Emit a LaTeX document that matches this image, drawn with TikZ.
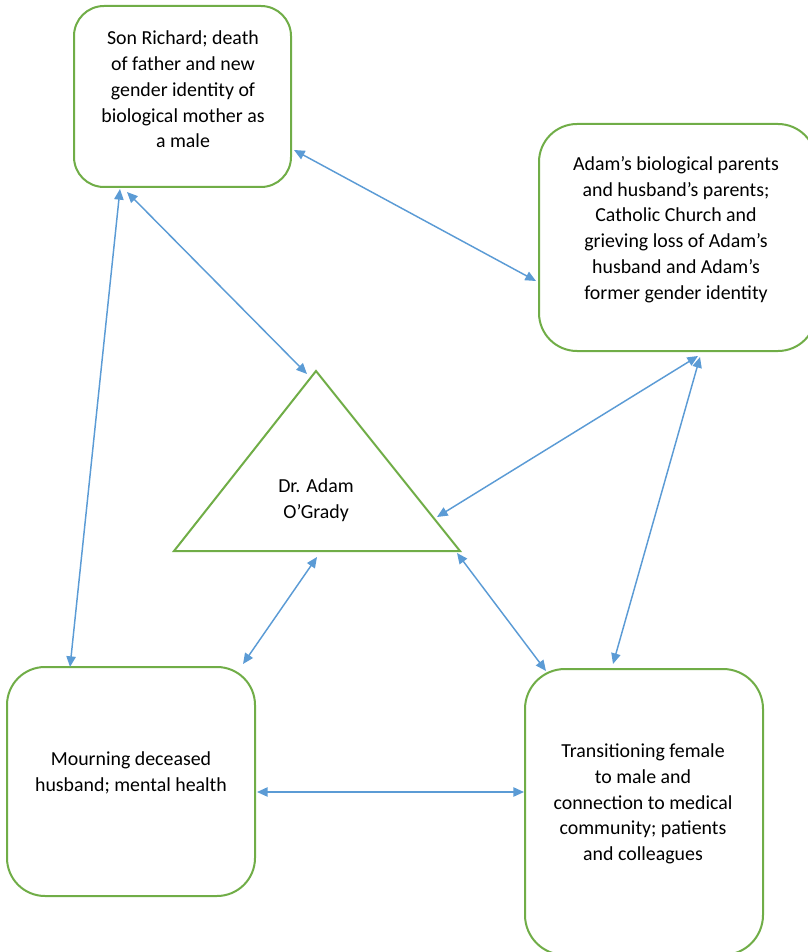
\documentclass[tikz,border=0pt]{standalone}
\usepackage{fontspec}
\setmainfont{Carlito}
\usetikzlibrary{arrows.meta,calc}
\definecolor{boxgreen}{HTML}{70AD47}
\definecolor{arrowblue}{HTML}{5B9BD5}
\tikzset{
  rbox/.style={draw=boxgreen, line width=1.5pt, fill=white, rectangle, inner sep=0pt},
  txt/.style={align=center, inner sep=0pt, font=\fontsize{14.9pt}{19.3pt}\selectfont, text=black},
  conn/.style={draw=arrowblue, line width=1.1pt, {Triangle[length=8pt,width=7pt]}-{Triangle[length=8pt,width=7pt]}}
}
\begin{document}
\begin{tikzpicture}[x=0.75pt,y=-0.75pt]
\useasboundingbox (0,0) rectangle (807,952);
% boxes
\node[rbox, minimum width=162.75pt, minimum height=135.75pt, rounded corners=22.5pt] (b1) at (182.5,96.5) {};
\node[rbox, minimum width=207.75pt, minimum height=170.25pt, rounded corners=28.5pt] (b2) at (677.5,237.5) {};
\node[rbox, minimum width=186pt, minimum height=171.75pt, rounded corners=28.5pt] (b3) at (131,781.5) {};
\node[rbox, minimum width=178.5pt, minimum height=214.5pt, rounded corners=30pt] (b4) at (644,812) {};
% triangle
\coordinate (tA) at (316,371);
\coordinate (tL) at (174,551);
\coordinate (tR) at (460,551);
\draw[draw=boxgreen, line width=1.5pt, line join=miter] (tA) -- (tR) -- (tL) -- cycle;
% texts
\node[txt] (t1) at (183,89.5) {Son Richard; death\\of father and new\\gender identity of\\biological mother as\\a male};
\node[txt] (t2) at (676,229.5) {Adam’s biological parents\\and husband’s parents;\\Catholic Church and\\grieving loss of Adam’s\\husband and Adam’s\\former gender identity};
\node[txt] (t3) at (131,773) {Mourning deceased\\husband; mental health};
\node[txt] (t4) at (643,804) {Transitioning female\\to male and\\connection to medical\\community; patients\\and colleagues};
\node[txt] (adam) at (316,500) {Dr. Adam\\O’Grady};
% connectors
\draw[conn] ($(b1.north east)+(2,145)$) -- ($(b2.north west)+(-2,158)$);
\draw[conn] ($(b1.south west)+(54,4)$) -- ($(tA)+(-9,3)$);
\draw[conn] ($(b1.south west)+(47,1)$) -- ($(b3.north west)+(64,1)$);
\draw[conn] ($(b2.south west)+(160,4)$) -- ($(tR)+(-23,-34)$);
\draw[conn] ($(b2.south west)+(162,5)$) -- ($(b4.north west)+(89,-4)$);
\draw[conn] ($(tL)+(143,6)$) -- ($(b3.north east)+(-13,-2)$);
\draw[conn] ($(tR)+(-3,2)$) -- ($(b4.north west)+(22,3)$);
\draw[conn] ($(b3.east)+(1,10.5)$) -- ($(b4.west)+(0,-20)$);
\end{tikzpicture}
\end{document}
